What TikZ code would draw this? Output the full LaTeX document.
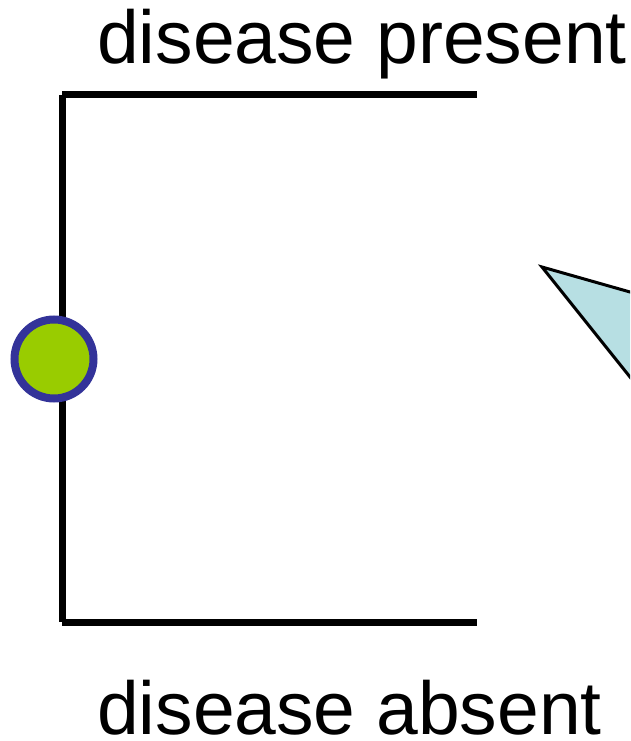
\documentclass[tikz,border=0pt]{standalone}
\usepackage{fontspec}
\setmainfont{Liberation Sans}
\definecolor{chgreen}{RGB}{153,204,0}
\definecolor{chblue}{RGB}{51,51,153}
\definecolor{trifill}{RGB}{183,223,227}
\begin{document}
\begin{tikzpicture}[x=1pt,y=-1pt,
  lbl/.style={anchor=base west,inner sep=0pt,font=\fontsize{75}{90}\selectfont},
  branch/.style={line width=7pt,black},
  chance/.style={circle,draw=chblue,fill=chgreen,line width=8pt,minimum size=79pt,inner sep=0pt},
  pointer/.style={draw=black,fill=trifill,line width=3pt,line join=miter}]
\useasboundingbox (0,0) rectangle (630,741);
\clip (0,0) rectangle (630,741);
\node[lbl] (top) at (97,64) {disease present};
\node[lbl] (bot) at (97,734) {disease absent};
\coordinate (tl) at (62,95);
\coordinate (tr) at (477,95);
\coordinate (bl) at (62,622);
\coordinate (br) at (477,622);
\draw[branch] (tl) -- (tr);
\draw[branch] (tl) -- (bl);
\draw[branch] (bl) -- (br);
\node[chance] (c) at (54,359) {};
\coordinate (tip) at (542,267);
\coordinate (ta) at (718,317);
\coordinate (tb) at (718,487);
\draw[pointer] (tip) -- (ta) -- (tb) -- cycle;
\end{tikzpicture}
\end{document}
